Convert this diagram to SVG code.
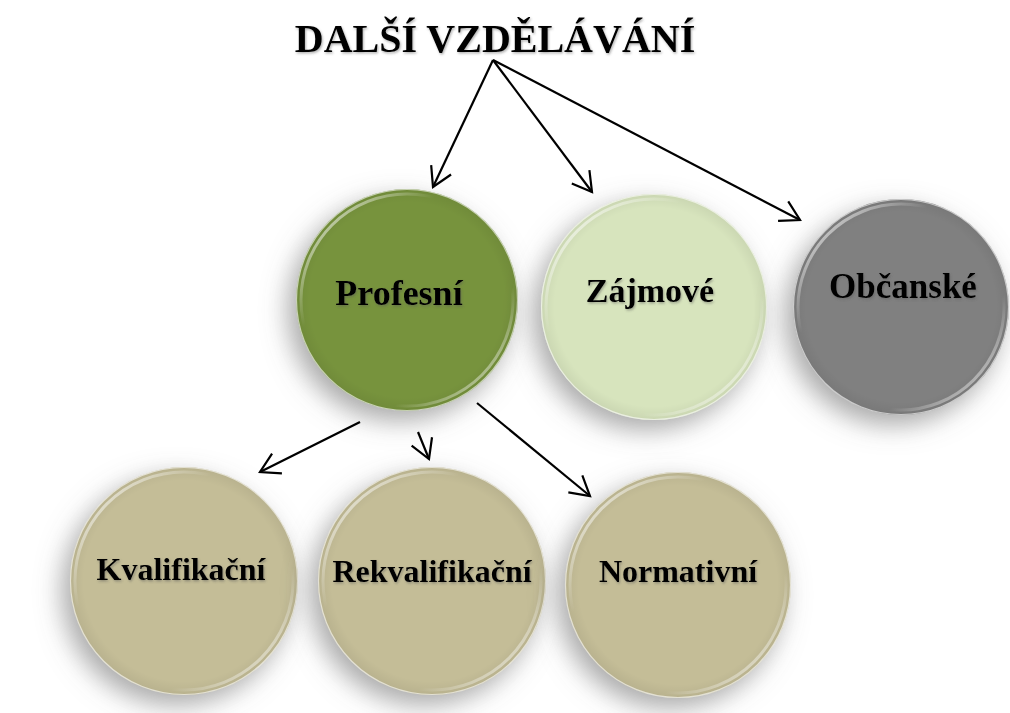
<svg xmlns="http://www.w3.org/2000/svg" width="1010" height="713" viewBox="0 0 1010 713">
  <defs>
    <style>
      .label { font-family: "Liberation Serif", "Times New Roman", serif; font-weight: bold; fill: #000; text-anchor: middle; }
      .conn { stroke: #000; stroke-width: 2.2; fill: none; marker-end: url(#arrow); }
      .olive { fill: #77933C; }
      .lightgreen { fill: #D7E4BD; }
      .gray { fill: #808080; }
      .tan { fill: #C4BD97; }
      .rim { fill: none; stroke: url(#rimGrad); stroke-width: 3; }
      .edge { fill: none; stroke: #ffffff; stroke-opacity: 0.6; stroke-width: 1.2; }
      .shade { fill: url(#shadeGrad); }
    </style>
    <filter id="shadow" x="-40%" y="-40%" width="180%" height="180%">
      <feGaussianBlur in="SourceAlpha" stdDeviation="13"/>
      <feOffset dx="-8" dy="10" result="b"/>
      <feFlood flood-color="#707070" flood-opacity="0.6"/>
      <feComposite in2="b" operator="in"/>
      <feMerge>
        <feMergeNode/>
        <feMergeNode in="SourceGraphic"/>
      </feMerge>
    </filter>
    <filter id="tshadow" x="-10%" y="-30%" width="120%" height="160%">
      <feDropShadow dx="1" dy="1.5" stdDeviation="1" flood-color="#555" flood-opacity="0.45"/>
    </filter>
    <linearGradient id="rimGrad" x1="0" y1="0" x2="1" y2="1">
      <stop offset="0" stop-color="#fff" stop-opacity="0.9"/>
      <stop offset="0.32" stop-color="#fff" stop-opacity="0"/>
      <stop offset="0.72" stop-color="#fff" stop-opacity="0"/>
      <stop offset="1" stop-color="#fff" stop-opacity="0.85"/>
    </linearGradient>
    <radialGradient id="shadeGrad" cx="0.5" cy="0.5" r="0.5">
      <stop offset="0.88" stop-color="#000" stop-opacity="0"/>
      <stop offset="1" stop-color="#000" stop-opacity="0.06"/>
    </radialGradient>
    <marker id="arrow" markerUnits="userSpaceOnUse" markerWidth="40" markerHeight="40" refX="0" refY="0" orient="auto" overflow="visible">
      <path d="M-19,-11 L0,0 L-19,11" fill="none" stroke="#000" stroke-width="2.2" stroke-linejoin="miter"/>
    </marker>
  </defs>

  <rect width="1010" height="713" fill="#ffffff"/>

  <g id="title">
    <text class="label" x="495" y="52" font-size="40" filter="url(#tshadow)">DALŠÍ VZDĚLÁVÁNÍ</text>
  </g>

  <g id="node-profesni">
    <circle class="olive" cx="407" cy="300" r="111" filter="url(#shadow)"/>
    <circle class="shade" cx="407" cy="300" r="111"/>
    <circle class="rim" cx="407" cy="300" r="106"/>
    <circle class="edge" cx="407" cy="300" r="110.5"/>
    <text class="label" x="399" y="305" font-size="36" filter="url(#tshadow)">Profesní</text>
  </g>

  <g id="node-zajmove">
    <circle class="lightgreen" cx="654" cy="307" r="113" filter="url(#shadow)"/>
    <circle class="shade" cx="654" cy="307" r="113"/>
    <circle class="rim" cx="654" cy="307" r="108"/>
    <circle class="edge" cx="654" cy="307" r="112.5"/>
    <text class="label" x="650" y="302" font-size="34" filter="url(#tshadow)">Zájmové</text>
  </g>

  <g id="node-obcanske">
    <circle class="gray" cx="901" cy="307" r="108" filter="url(#shadow)"/>
    <circle class="shade" cx="901" cy="307" r="108"/>
    <circle class="rim" cx="901" cy="307" r="103"/>
    <circle class="edge" cx="901" cy="307" r="107.5"/>
    <text class="label" x="903" y="298" font-size="35" filter="url(#tshadow)">Občanské</text>
  </g>

  <g id="node-kvalifikacni">
    <circle class="tan" cx="184" cy="581" r="114" filter="url(#shadow)"/>
    <circle class="shade" cx="184" cy="581" r="114"/>
    <circle class="rim" cx="184" cy="581" r="109"/>
    <circle class="edge" cx="184" cy="581" r="113.5"/>
    <text class="label" x="181" y="580" font-size="32" filter="url(#tshadow)">Kvalifikační</text>
  </g>

  <g id="node-rekvalifikacni">
    <circle class="tan" cx="432" cy="581" r="114" filter="url(#shadow)"/>
    <circle class="shade" cx="432" cy="581" r="114"/>
    <circle class="rim" cx="432" cy="581" r="109"/>
    <circle class="edge" cx="432" cy="581" r="113.5"/>
    <text class="label" x="432" y="582" font-size="32" filter="url(#tshadow)">Rekvalifikační</text>
  </g>

  <g id="node-normativni">
    <circle class="tan" cx="678" cy="585" r="113" filter="url(#shadow)"/>
    <circle class="shade" cx="678" cy="585" r="113"/>
    <circle class="rim" cx="678" cy="585" r="108"/>
    <circle class="edge" cx="678" cy="585" r="112.5"/>
    <text class="label" x="678" y="582" font-size="32" filter="url(#tshadow)">Normativní</text>
  </g>

  <g id="connectors">
    <line class="conn" x1="493" y1="60" x2="433" y2="187"/>
    <line class="conn" x1="493" y1="60" x2="592" y2="192"/>
    <line class="conn" x1="493" y1="60" x2="800" y2="220"/>
    <line class="conn" x1="360" y1="422" x2="260" y2="472"/>
    <line class="conn" x1="418" y1="432" x2="429" y2="459"/>
    <line class="conn" x1="477" y1="403" x2="590" y2="496"/>
  </g>
</svg>
